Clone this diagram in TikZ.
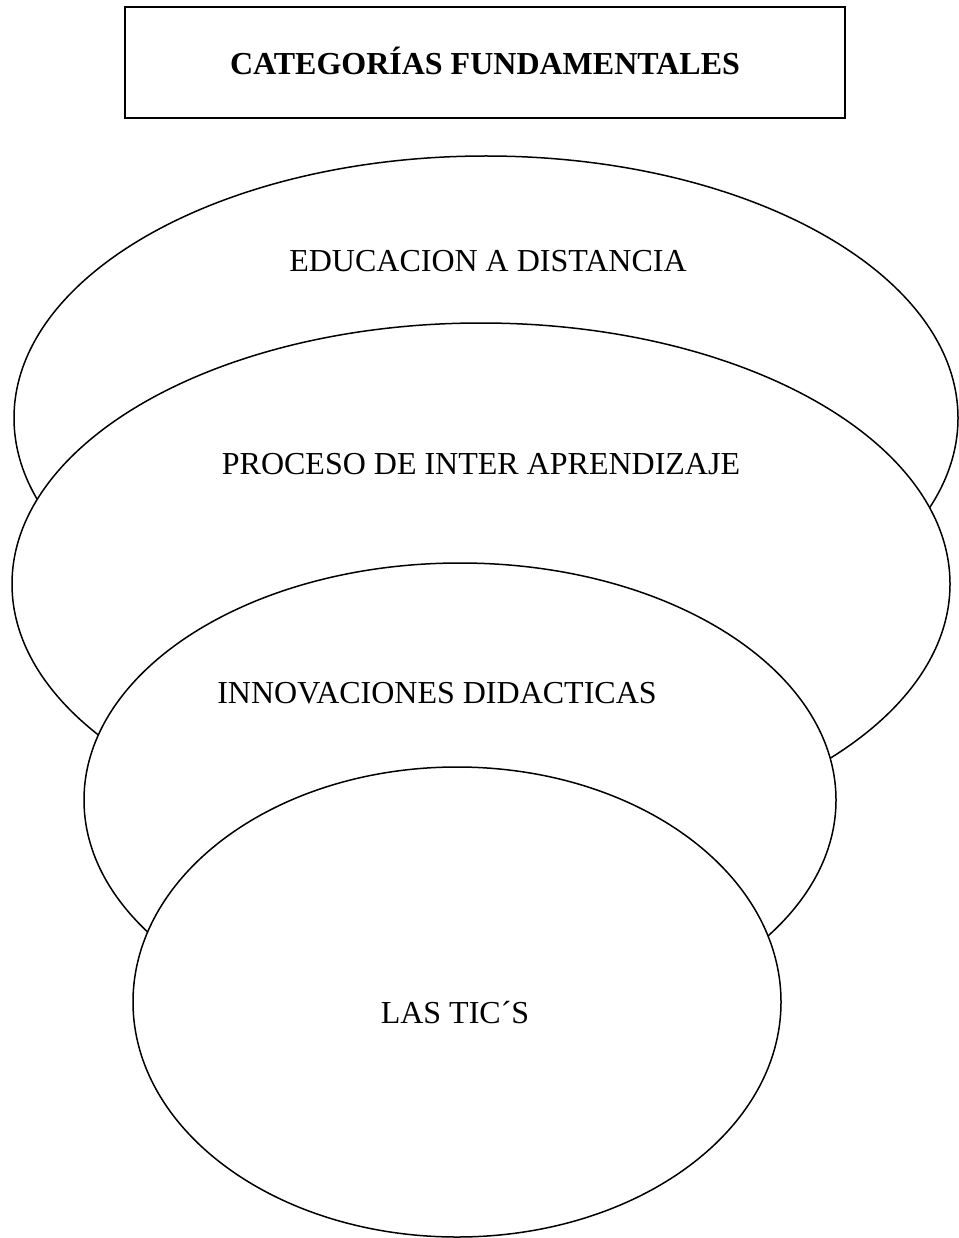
\documentclass[tikz,border=0pt]{standalone}
\usepackage{fontspec}
\setmainfont{Liberation Serif}
\usetikzlibrary{shapes.geometric}

\begin{document}
\begin{tikzpicture}[x=1pt,y=-1pt,
	elipse/.style={ellipse, draw, fill=white, line width=1.5pt, inner sep=0pt},
	texto/.style={anchor=base, font=\fontsize{32}{38}\selectfont}]
\useasboundingbox (0,0) rectangle (958,1238);
% titulo
\node[draw, line width=2pt, minimum width=720pt, minimum height=111pt] (titulo) at (484.5,62.5) {};
\node[texto, font=\fontsize{32}{38}\selectfont\bfseries] (ttitulo) at (485,75) {CATEGORÍAS FUNDAMENTALES};
% elipses, de atras hacia adelante
\node[elipse, minimum width=944pt, minimum height=524pt] (educacion) at (486,418) {};
\node[elipse, minimum width=938pt, minimum height=522pt] (proceso) at (481,584) {};
\node[elipse, minimum width=752pt, minimum height=474pt] (innovaciones) at (460,800) {};
\node[elipse, minimum width=648pt, minimum height=470pt] (tics) at (457,1002) {};
% textos
\node[texto] (teducacion) at (488,272) {EDUCACION A DISTANCIA};
\node[texto] (tproceso) at (481,474) {PROCESO DE INTER APRENDIZAJE};
\node[texto] (tinnovaciones) at (437,703) {INNOVACIONES DIDACTICAS};
\node[texto] (ttics) at (455,1023) {LAS TIC´S};
\end{tikzpicture}
\end{document}
